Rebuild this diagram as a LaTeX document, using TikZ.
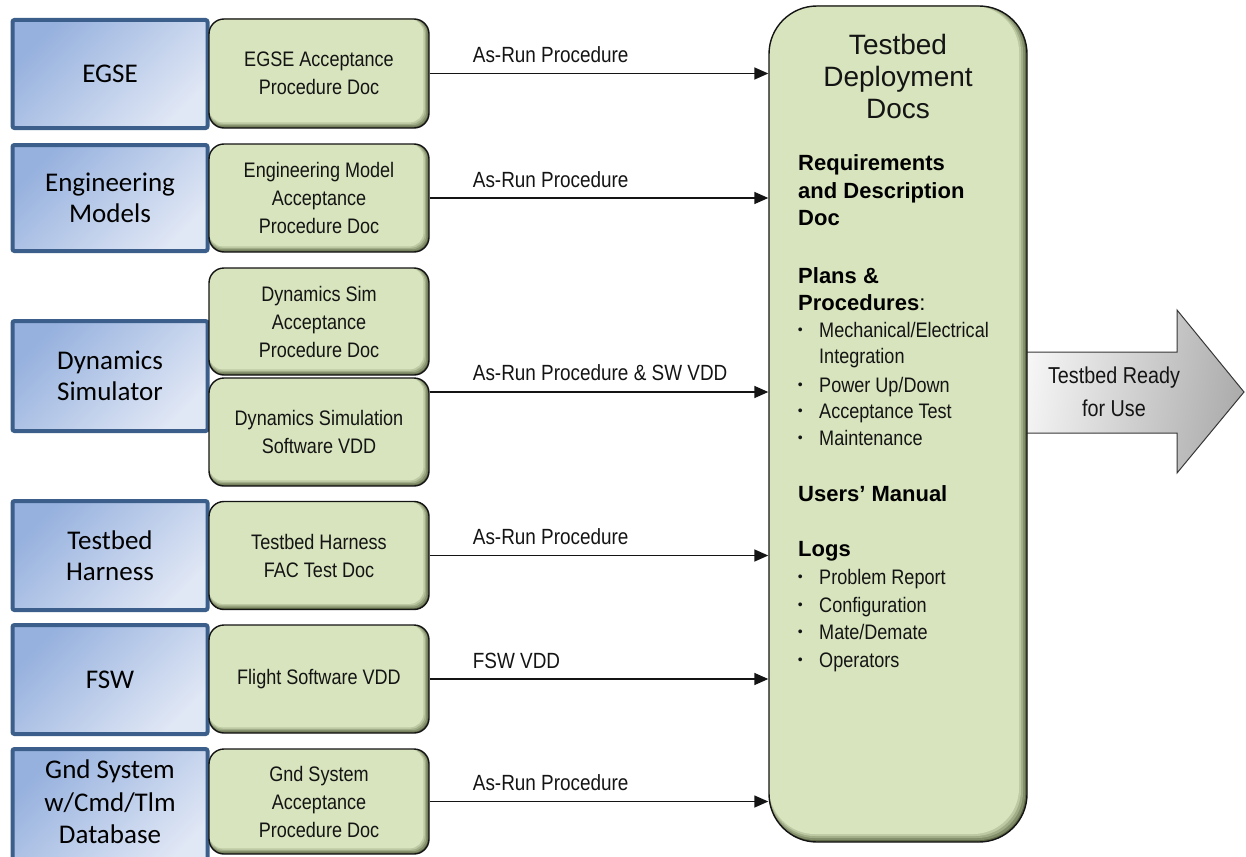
\documentclass[tikz,border=0pt]{standalone}
\usepackage{fontspec}
\setmainfont{Liberation Sans}
\newfontfamily\narrowsans[FakeStretch=0.86]{Liberation Sans}
\newfontfamily\calibsans{Carlito}
\usetikzlibrary{arrows.meta,calc}

\definecolor{bluefillA}{RGB}{150,177,222}
\definecolor{bluefillB}{RGB}{224,231,245}
\definecolor{blueborder}{RGB}{59,94,138}
\definecolor{greenfill}{RGB}{215,228,189}
\definecolor{greendark}{RGB}{95,105,70}
\definecolor{arrowlight}{RGB}{246,246,246}
\definecolor{arrowdark}{RGB}{172,172,172}
\definecolor{inkline}{RGB}{20,20,20}

% inner shading along the right and bottom edges of a rounded box
\newcommand\insetshade[2]{%
  \fill[greendark] (path picture bounding box.south west) rectangle (path picture bounding box.north east);
  \foreach \k/\c in {1/30,2/55,3/78,4/100}{%
    \fill[greenfill!\c!greendark, rounded corners=#1]
      (path picture bounding box.north west) rectangle
      ([xshift={-\k*#2}, yshift={\k*#2}]path picture bounding box.south east);
  }%
}

\newcommand\boxline[3]{\node[itemtext] (#1) at (819,#2) {#3};}
\newcommand\boxbullet[3]{\boxline{#1}{#2}{#3}\node[itemdot] (#1-dot) at ([yshift=2.5pt]#1.base west) {\textbullet};}

\tikzset{
  source/.style={draw=blueborder, line width=4pt, rounded corners=2pt,
    left color=bluefillA, right color=bluefillB, shading angle=45,
    minimum width=195pt, inner sep=0pt, align=center, text=black,
    font=\calibsans\fontsize{27}{31}\selectfont},
  sourcetext/.style={inner sep=0pt, align=center, text=black,
    font=\calibsans\fontsize{27}{32.5}\selectfont},
  doc/.style={draw=inkline, line width=1.4pt, fill=greenfill, rounded corners=15pt,
    minimum width=220pt, inner sep=0pt, align=center, text=inkline,
    font=\narrowsans\fontsize{21}{28}\selectfont,
    path picture={\insetshade{14pt}{1.4pt}}},
  bigbox/.style={draw=inkline, line width=1.4pt, fill=greenfill, rounded corners=48pt,
    minimum width=258pt, minimum height=836pt, inner sep=0pt,
    path picture={\insetshade{46pt}{2pt}}},
  flow/.style={draw=inkline, line width=1.5pt, -{Triangle[length=14pt,width=12pt]}},
  flowlabel/.style={anchor=base west, inner sep=0pt, text=inkline,
    font=\narrowsans\fontsize{22}{22}\selectfont},
  titleline/.style={anchor=base, inner sep=0pt, text=inkline,
    font=\fontsize{28}{28}\selectfont},
  heading/.style={anchor=base west, inner sep=0pt, text=black,
    font=\bfseries\fontsize{22}{22}\selectfont},
  itemtext/.style={anchor=base west, inner sep=0pt, text=inkline,
    font=\narrowsans\fontsize{21}{21}\selectfont},
  itemdot/.style={anchor=base east, inner sep=0pt, xshift=-16pt, text=inkline,
    font=\fontsize{14}{14}\selectfont},
  readyarrow/.style={draw=inkline!85, line width=1pt,
    left color=arrowlight, right color=arrowdark, shading angle=80},
  readytext/.style={inner sep=0pt, align=center, text=inkline,
    font=\narrowsans\fontsize{23}{33}\selectfont},
}

\begin{document}
\begin{tikzpicture}[x=1pt,y=-1pt]
\path[use as bounding box, clip] (0,0) rectangle (1246,856);

% outgoing block arrow, partly hidden under the deployment box
\path[readyarrow] (1020,352) -- (1177,352) -- (1177,310) -- (1244,392)
  -- (1177,473) -- (1177,433) -- (1020,433) -- cycle;
\node[readytext] (ready) at (1114,392) {Testbed Ready\\for Use};

% deployment documentation box
\node[bigbox] (deploy) at (898,424) {};
\node[titleline] (title1) at (898,55) {Testbed};
\node[titleline] (title2) at (898,87) {Deployment};
\node[titleline] (title3) at (898,118) {Docs};
\node[heading] (req1) at (798,170) {Requirements};
\node[heading] (req2) at (798,198) {and Description};
\node[heading] (req3) at (798,225) {Doc};
\node[heading] (plan1) at (798,283) {Plans \&};
\node[heading] (plan2) at (798,310) {Procedures\mdseries:};
\boxbullet{mech}{337}{Mechanical/Electrical}
\boxline{integ}{363}{Integration}
\boxbullet{power}{392}{Power Up/Down}
\boxbullet{accept}{418}{Acceptance Test}
\boxbullet{maint}{445}{Maintenance}
\node[heading] (manual) at (798,501) {Users’ Manual};
\node[heading] (logs) at (798,556) {Logs};
\boxbullet{probrep}{584}{Problem Report}
\boxbullet{config}{612}{Configuration}
\boxbullet{mate}{639}{Mate/Demate}
\boxbullet{oper}{667}{Operators}

% source items
\node[source, minimum height=108pt] (egse) at (110,74) {EGSE};
\node[source, minimum height=106pt] (engm) at (110,198) {Engineering\\Models};
\node[source, minimum height=110pt] (dyn) at (110,376) {Dynamics\\Simulator};
\node[source, minimum height=109pt] (harn) at (110,555.5) {Testbed\\Harness};
\node[source, minimum height=109pt] (fsw) at (110,679.5) {FSW};
\node[source, minimum height=120pt] (gnd) at (110,809) {};
\node[sourcetext] (gndtext) at (110,802) {Gnd System\\w/Cmd/Tlm\\Database};

% acceptance documents
\node[doc, minimum height=109pt] (egsedoc) at (319,73.5) {EGSE Acceptance\\Procedure Doc};
\node[doc, minimum height=108pt] (engdoc) at (319,198) {Engineering Model\\Acceptance\\Procedure Doc};
\node[doc, minimum height=107pt] (dyndoc) at (319,321.5) {Dynamics Sim\\Acceptance\\Procedure Doc};
\node[doc, minimum height=108pt] (dynsw) at (319,432) {Dynamics Simulation\\Software VDD};
\node[doc, minimum height=108pt] (harndoc) at (319,555.5) {Testbed Harness\\FAC Test Doc};
\node[doc, minimum height=108pt] (fswdoc) at (319,679) {Flight Software VDD};
\node[doc, minimum height=105pt] (gnddoc) at (319,801.5) {Gnd System\\Acceptance\\Procedure Doc};

% deliveries into the deployment box
\coordinate (dynout) at ($(dynsw.east)+(0,-40)$);
\draw[flow] (egsedoc.east) -- (egsedoc.east -| deploy.west);
\draw[flow] (engdoc.east) -- (engdoc.east -| deploy.west);
\draw[flow] (dynout) -- (dynout -| deploy.west);
\draw[flow] (harndoc.east) -- (harndoc.east -| deploy.west);
\draw[flow] (fswdoc.east) -- (fswdoc.east -| deploy.west);
\draw[flow] (gnddoc.east) -- (gnddoc.east -| deploy.west);

\node[flowlabel] (lab1) at ($(egsedoc.east)+(43,-11)$) {As-Run Procedure};
\node[flowlabel] (lab2) at ($(engdoc.east)+(43,-11)$) {As-Run Procedure};
\node[flowlabel] (lab3) at ($(dynout)+(43,-12)$) {As-Run Procedure \& SW VDD};
\node[flowlabel] (lab4) at ($(harndoc.east)+(43,-11)$) {As-Run Procedure};
\node[flowlabel] (lab5) at ($(fswdoc.east)+(43,-11)$) {FSW VDD};
\node[flowlabel] (lab6) at ($(gnddoc.east)+(43,-11)$) {As-Run Procedure};
\end{tikzpicture}
\end{document}
